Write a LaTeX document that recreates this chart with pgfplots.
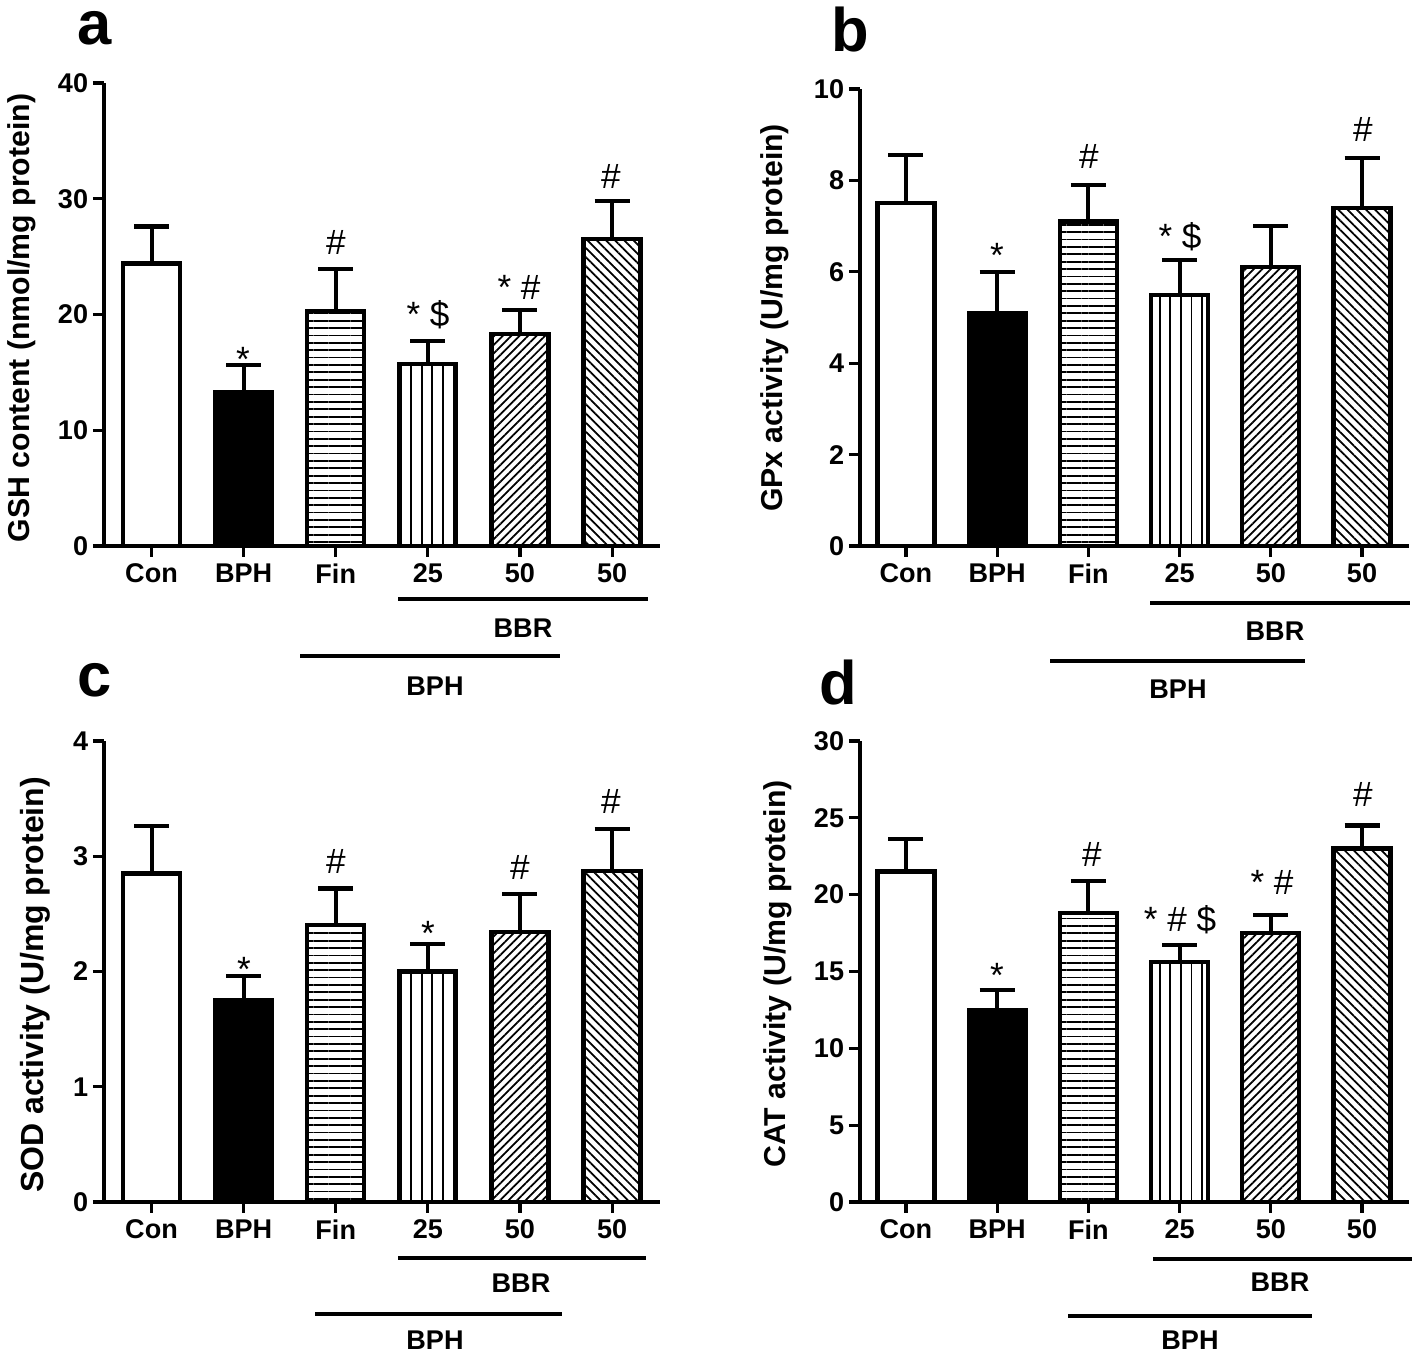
\documentclass[border=0pt]{standalone}
\usepackage{fontspec}
\setmainfont{Liberation Sans}
\usepackage{pgfplots}
\pgfplotsset{compat=1.18}
\usetikzlibrary{patterns.meta}
\newcommand\tickf{\fontsize{7.7}{9}\selectfont\bfseries}
\newcommand\annf{\fontsize{10}{12}\selectfont}
\newcommand\labf{\fontsize{8.6}{10}\selectfont\bfseries}
\newcommand\letf{\fontsize{17.5}{20}\selectfont\bfseries}
\pgfplotsset{
  panel/.style={
    scale only axis, anchor=south west, clip=false,
    axis x line=bottom, axis y line=left,
    axis line style={-, line width=0.9pt, black},
    ymin=0, xtick={0,...,5}, xticklabels={Con,BPH,Fin,25,50,50},
    tick align=outside, major tick length=0.11cm,
    tick style={line width=0.9pt, black},
    ticklabel style={font=\tickf},
    xticklabel style={inner sep=1.8pt},
    yticklabel style={inner sep=1.2pt},
    ybar, bar width=0.57cm,
  },
  bb/.style={bar shift=0pt, draw=black, line width=1.2pt,
    error bars/y dir=plus, error bars/y explicit,
    error bars/error bar style={line width=1.15pt, black},
    error bars/error mark options={rotate=90, mark size=0.175cm, line width=1.15pt, black}},
  fCon/.style={bb, fill=white},
  fBPH/.style={bb, fill=black},
  fFin/.style={bb, pattern={Lines[angle=0,distance=2.1pt,line width=0.5pt]}},
  f25/.style={bb, pattern={Lines[angle=90,distance=3pt,line width=0.5pt]}},
  f50/.style={bb, pattern={Lines[angle=45,distance=1.7pt,line width=0.5pt]}},
  f50b/.style={bb, pattern={Lines[angle=-45,distance=1.85pt,line width=0.5pt]}},
}
\begin{document}
\begin{tikzpicture}
\useasboundingbox (0,0) rectangle (14.16,13.54);

% ---------- panel a ----------
\begin{axis}[panel, at={(1.04cm,8.08cm)}, width=5.56cm, height=4.63cm,
  xmin=-0.516, xmax=5.52, ymax=40,
  ytick={0,10,20,30,40}, yticklabels={0,10,20,30,40}]
\addplot[fCon] coordinates {(0,24.4) +- (0,3.2)};
\addplot[fBPH] coordinates {(1,13.3) +- (0,2.3)};
\addplot[fFin] coordinates {(2,20.3) +- (0,3.6)};
\addplot[f25]  coordinates {(3,15.7) +- (0,2.0)};
\addplot[f50]  coordinates {(4,18.3) +- (0,2.1)};
\addplot[f50b] coordinates {(5,26.5) +- (0,3.3)};
\end{axis}

% ---------- panel b ----------
\begin{axis}[panel, at={(8.60cm,8.08cm)}, width=5.49cm, height=4.57cm,
  xmin=-0.504, xmax=5.515, ymax=10,
  ytick={0,2,4,6,8,10}, yticklabels={0,2,4,6,8,10}]
\addplot[fCon] coordinates {(0,7.5) +- (0,1.05)};
\addplot[fBPH] coordinates {(1,5.1) +- (0,0.9)};
\addplot[fFin] coordinates {(2,7.1) +- (0,0.8)};
\addplot[f25]  coordinates {(3,5.5) +- (0,0.75)};
\addplot[f50]  coordinates {(4,6.1) +- (0,0.9)};
\addplot[f50b] coordinates {(5,7.4) +- (0,1.1)};
\end{axis}

% ---------- panel c ----------
\begin{axis}[panel, at={(1.04cm,1.52cm)}, width=5.56cm, height=4.61cm,
  xmin=-0.516, xmax=5.52, ymax=4,
  ytick={0,1,2,3,4}, yticklabels={0,1,2,3,4}]
\addplot[fCon] coordinates {(0,2.85) +- (0,0.41)};
\addplot[fBPH] coordinates {(1,1.75) +- (0,0.21)};
\addplot[fFin] coordinates {(2,2.40) +- (0,0.32)};
\addplot[f25]  coordinates {(3,2.00) +- (0,0.24)};
\addplot[f50]  coordinates {(4,2.34) +- (0,0.33)};
\addplot[f50b] coordinates {(5,2.87) +- (0,0.37)};
\end{axis}

% ---------- panel d ----------
\begin{axis}[panel, at={(8.60cm,1.52cm)}, width=5.49cm, height=4.61cm,
  xmin=-0.504, xmax=5.515, ymax=30,
  ytick={0,5,10,15,20,25,30}, yticklabels={0,5,10,15,20,25,30}]
\addplot[fCon] coordinates {(0,21.5) +- (0,2.1)};
\addplot[fBPH] coordinates {(1,12.5) +- (0,1.3)};
\addplot[fFin] coordinates {(2,18.8) +- (0,2.1)};
\addplot[f25]  coordinates {(3,15.6) +- (0,1.1)};
\addplot[f50]  coordinates {(4,17.5) +- (0,1.2)};
\addplot[f50b] coordinates {(5,23.0) +- (0,1.5)};
\end{axis}

% ---------- y labels ----------
\node[rotate=90, font=\labf] at (0.22,10.36) {GSH content (nmol/mg protein)};
\node[rotate=90, font=\labf] at (7.75,10.36) {GPx activity (U/mg protein)};
\node[rotate=90, font=\fontsize{9.1}{10}\selectfont\bfseries] at (0.35,3.69) {SOD activity (U/mg protein)};
\node[rotate=90, font=\labf] at (7.78,3.80) {CAT activity (U/mg protein)};

% ---------- panel letters ----------
\node[font=\letf] at (0.95,13.26) {a};
\node[font=\letf] at (8.50,13.24) {b};
\node[font=\letf] at (0.95,6.74) {c};
\node[font=\letf] at (8.38,6.71) {d};

% ---------- significance marks ----------
\begin{scope}[every node/.style={font=\annf, anchor=base, inner sep=0pt}]
\node at (2.43,9.82) {*};
\node at (3.36,10.99) {\#};
\node at (4.28,10.27) {* \$};
\node at (5.19,10.54) {* \#};
\node at (6.11,11.65) {\#};
\node at (9.97,10.86) {*};
\node at (10.89,11.85) {\#};
\node at (11.80,11.05) {* \$};
\node at (13.63,12.12) {\#};
\node at (2.44,3.72) {*};
\node at (3.36,4.80) {\#};
\node at (4.28,4.08) {*};
\node at (5.20,4.74) {\#};
\node at (6.11,5.40) {\#};
\node at (9.97,3.66) {*};
\node at (10.92,4.87) {\#};
\node at (11.80,4.22) {* \# \$};
\node at (12.72,4.59) {* \#};
\node at (13.63,5.47) {\#};
\end{scope}

% ---------- group bars ----------
\begin{scope}[line width=1.2pt]
\draw (3.98,7.55) -- (6.48,7.55);
\draw (3.00,6.98) -- (5.60,6.98);
\draw (11.50,7.51) -- (14.10,7.51);
\draw (10.50,6.93) -- (13.05,6.93);
\draw (3.98,0.96) -- (6.46,0.96);
\draw (3.15,0.40) -- (5.62,0.40);
\draw (11.53,0.95) -- (14.12,0.95);
\draw (10.68,0.38) -- (13.12,0.38);
\end{scope}
\begin{scope}[every node/.style={font=\tickf}]
\node at (5.23,7.26) {BBR};
\node at (4.35,6.68) {BPH};
\node at (12.75,7.23) {BBR};
\node at (11.78,6.65) {BPH};
\node at (5.21,0.71) {BBR};
\node at (4.35,0.14) {BPH};
\node at (12.80,0.72) {BBR};
\node at (11.90,0.14) {BPH};
\end{scope}
\end{tikzpicture}
\end{document}
